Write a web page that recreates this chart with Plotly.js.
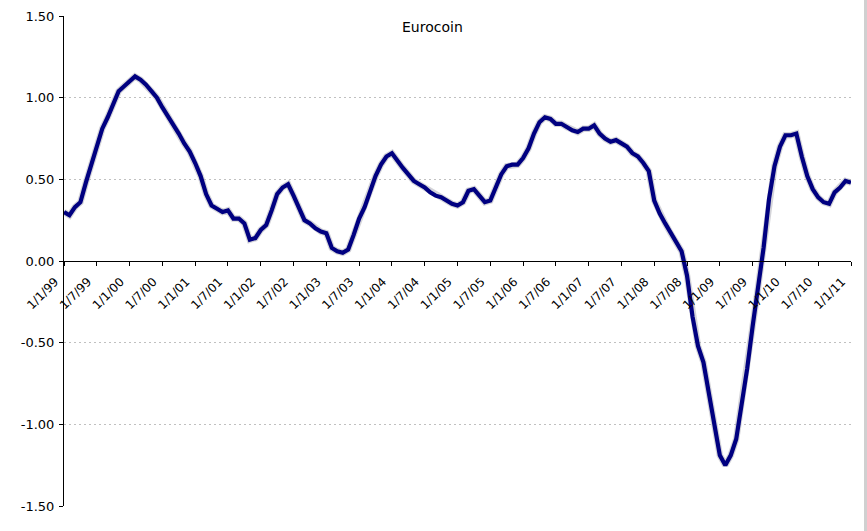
<!DOCTYPE html>
<html>
<head>
<meta charset="utf-8">
<script src="https://cdn.plot.ly/plotly-3.0.1.min.js"></script>
<style>
  html, body { margin: 0; padding: 0; background: #ffffff; }
  #chart { width: 867px; height: 531px; }
</style>
</head>
<body>
<div id="chart"></div>
<script>
// Eurocoin monthly values, Jan 1999 – Jan 2011
const eurocoin = [
  0.30, 0.28, 0.33, 0.36, 0.48, 0.59, 0.69, 0.81, 0.88, 0.96, 1.04, 1.07,   // 1999
  1.10, 1.13, 1.11, 1.08, 1.04, 1.00, 0.94, 0.89, 0.84, 0.78, 0.72, 0.67,   // 2000
  0.60, 0.52, 0.41, 0.34, 0.32, 0.30, 0.31, 0.26, 0.26, 0.23, 0.13, 0.14,   // 2001
  0.19, 0.22, 0.31, 0.41, 0.45, 0.47, 0.40, 0.32, 0.25, 0.23, 0.20, 0.18,   // 2002
  0.17, 0.08, 0.06, 0.05, 0.07, 0.16, 0.26, 0.33, 0.43, 0.52, 0.59, 0.64,   // 2003
  0.66, 0.61, 0.57, 0.53, 0.49, 0.47, 0.45, 0.42, 0.40, 0.39, 0.37, 0.35,   // 2004
  0.34, 0.36, 0.43, 0.44, 0.40, 0.36, 0.37, 0.45, 0.53, 0.58, 0.59, 0.59,   // 2005
  0.63, 0.69, 0.78, 0.85, 0.88, 0.87, 0.84, 0.84, 0.82, 0.80, 0.79, 0.81,   // 2006
  0.81, 0.83, 0.78, 0.75, 0.73, 0.74, 0.72, 0.70, 0.66, 0.64, 0.60, 0.55,   // 2007
  0.37, 0.29, 0.23, 0.17, 0.12, 0.06, -0.09, -0.34, -0.52, -0.62, -0.81, -1.00, // 2008
  -1.19, -1.25, -1.19, -1.09, -0.88, -0.66, -0.40, -0.16, 0.08, 0.38, 0.58, 0.70, // 2009
  0.77, 0.77, 0.78, 0.64, 0.52, 0.44, 0.39, 0.36, 0.35, 0.42, 0.45, 0.49,   // 2010
  0.48                                                                      // 2011
];

// x-axis tick labels, one every six months
const xTickLabels = [
  "1/1/99", "1/7/99", "1/1/00", "1/7/00", "1/1/01", "1/7/01", "1/1/02", "1/7/02",
  "1/1/03", "1/7/03", "1/1/04", "1/7/04", "1/1/05", "1/7/05", "1/1/06", "1/7/06",
  "1/1/07", "1/7/07", "1/1/08", "1/7/08", "1/1/09", "1/7/09", "1/1/10", "1/7/10",
  "1/1/11"
];

// y-axis ticks
const yTickValues = [-1.5, -1.0, -0.5, 0.0, 0.5, 1.0, 1.5];
const yTickLabels = ["-1.50", "-1.00", "-0.50", "0.00", "0.50", "1.00", "1.50"];

const monthIndex = eurocoin.map((_, i) => i);
const xTickValues = xTickLabels.map((_, i) => i * 6);

const font = "DejaVu Sans, Verdana, sans-serif";

const shadow = {
  type: "scatter",
  mode: "lines",
  x: monthIndex,
  y: eurocoin,
  line: { color: "rgba(160,160,170,0.45)", width: 6.5 },
  hoverinfo: "skip"
};

const trace = {
  type: "scatter",
  mode: "lines",
  x: monthIndex,
  y: eurocoin,
  line: { color: "#000080", width: 4.2 },
  hoverinfo: "skip"
};

const layout = {
  width: 867,
  height: 531,
  margin: { l: 64, r: 16, t: 16, b: 25 },
  paper_bgcolor: "#ffffff",
  plot_bgcolor: "#ffffff",
  showlegend: false,
  font: { family: font, size: 12, color: "#000000" },
  xaxis: {
    range: [0, 144],
    anchor: "free",
    position: 0.5,
    showgrid: false,
    zeroline: false,
    showline: true,
    linecolor: "#000000",
    linewidth: 1,
    ticks: "outside",
    ticklen: 4,
    tickcolor: "#000000",
    tickmode: "array",
    tickvals: xTickValues,
    ticktext: xTickLabels,
    tickangle: -45,
    ticklabelshift: -9,
    ticklabelstandoff: 4,
    tickfont: { family: font, size: 12, color: "#000000" }
  },
  yaxis: {
    range: [-1.5, 1.5],
    showgrid: true,
    gridcolor: "#c0c0c0",
    griddash: "2px,3px",
    gridwidth: 1,
    zeroline: false,
    showline: true,
    linecolor: "#000000",
    linewidth: 1,
    ticks: "outside",
    ticklen: 4,
    tickcolor: "#000000",
    tickmode: "array",
    tickvals: yTickValues,
    ticktext: yTickLabels,
    ticklabelstandoff: 2,
    tickfont: { family: font, size: 13, color: "#000000" }
  },
  annotations: [{
    text: "Eurocoin",
    xref: "paper", yref: "paper",
    x: 0.468, y: 0.978,
    xanchor: "center", yanchor: "middle",
    showarrow: false,
    font: { family: font, size: 14, color: "#000000" }
  }],
  shapes: [{
    type: "rect",
    xref: "paper", yref: "paper",
    x0: 1.0165, x1: 1.03, y0: -0.06, y1: 1.04,
    fillcolor: "#d0d0d0",
    line: { width: 0 },
    layer: "below"
  }]
};

Plotly.newPlot("chart", [shadow, trace], layout, { displayModeBar: false, staticPlot: true });
</script>
</body>
</html>
